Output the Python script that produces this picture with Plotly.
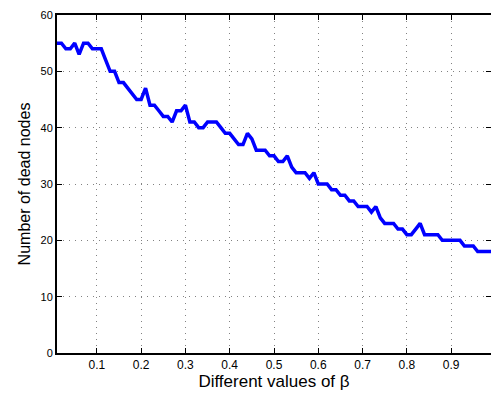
import plotly.graph_objects as go

beta = [round(0.01 * i, 2) for i in range(1, 100)]
dead_nodes = [
    55, 55, 54, 54, 55, 53, 55, 55, 54, 54,   # 0.01-0.10
    54, 52, 50, 50, 48, 48, 47, 46, 45, 45,   # 0.11-0.20
    47, 44, 44, 43, 42, 42, 41, 43, 43, 44,   # 0.21-0.30
    41, 41, 40, 40, 41, 41, 41, 40, 39, 39,   # 0.31-0.40
    38, 37, 37, 39, 38, 36, 36, 36, 35, 35,   # 0.41-0.50
    34, 34, 35, 33, 32, 32, 32, 31, 32, 30,   # 0.51-0.60
    30, 30, 29, 29, 28, 28, 27, 27, 26, 26,   # 0.61-0.70
    26, 25, 26, 24, 23, 23, 23, 22, 22, 21,   # 0.71-0.80
    21, 22, 23, 21, 21, 21, 21, 20, 20, 20,   # 0.81-0.90
    20, 20, 19, 19, 19, 18, 18, 18, 18,       # 0.91-0.99
]
x_ticks = [0.1, 0.2, 0.3, 0.4, 0.5, 0.6, 0.7, 0.8, 0.9]
y_ticks = [0, 10, 20, 30, 40, 50, 60]

fig = go.Figure()
fig.add_trace(go.Scatter(
    x=beta, y=dead_nodes, mode="lines",
    line=dict(color="rgb(0,0,255)", width=3.5),
    showlegend=False,
))

font_family = "Liberation Sans, Arial, Helvetica, sans-serif"
fig.update_layout(
    width=491, height=396,
    margin=dict(l=57, r=0, t=15, b=43, autoexpand=False),
    paper_bgcolor="white", plot_bgcolor="white",
    font=dict(family=font_family, color="black", size=11),
)
fig.update_xaxes(
    range=[0.01, 0.99], tickvals=x_ticks, ticktext=[f"{v:g}" for v in x_ticks],
    showgrid=True, gridcolor="rgb(130,130,130)", griddash="1px,5px", gridwidth=1,
    showline=True, linecolor="black", linewidth=2, mirror="ticks",
    ticks="inside", ticklen=5, tickcolor="black", tickwidth=1,
    tickfont=dict(size=12), zeroline=False, automargin=False,
    title=dict(text="Different values of β", font=dict(size=17), standoff=4),
)
fig.update_yaxes(
    range=[0, 60], tickvals=y_ticks,
    showgrid=True, gridcolor="rgb(130,130,130)", griddash="1px,5px", gridwidth=1,
    showline=True, linecolor="black", linewidth=2, mirror="ticks",
    ticks="inside", ticklen=5, tickcolor="black", tickwidth=1,
    tickfont=dict(size=11), zeroline=False, automargin=False,
    title=dict(text="Number of dead nodes", font=dict(size=16), standoff=6),
)

fig.write_html(
    "out.html",
    config={"displayModeBar": False},
    post_script="document.body.style.margin='0';document.body.style.overflow='hidden';",
)
